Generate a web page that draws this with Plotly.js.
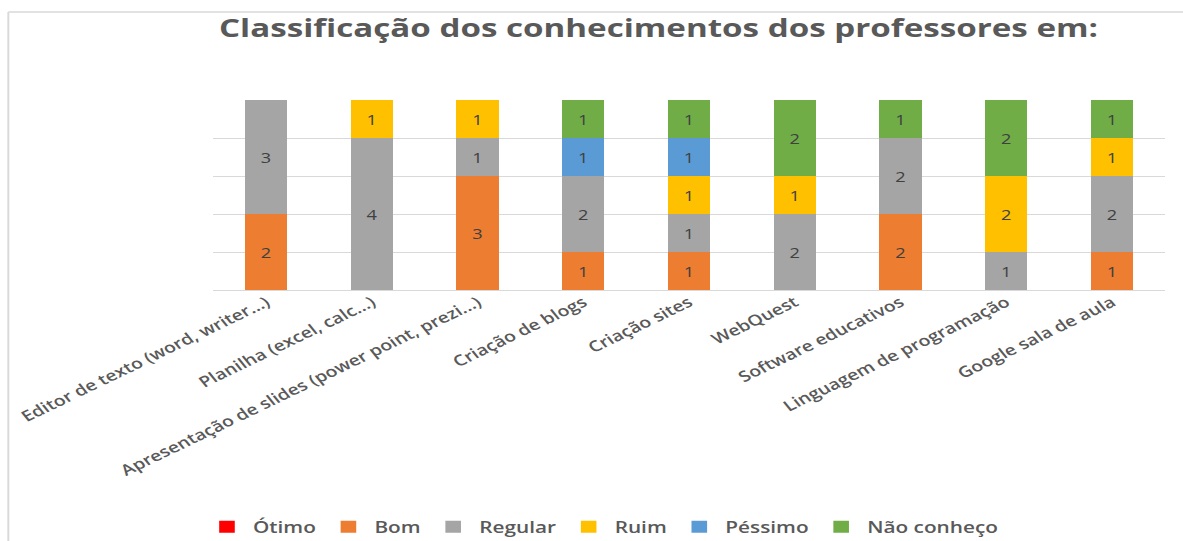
<!DOCTYPE html>
<html>
<head>
<meta charset="utf-8">
<script src="https://cdn.plot.ly/plotly-3.0.1.min.js"></script>
<style>
html,body{margin:0;padding:0;background:#fff;width:1183px;height:541px;overflow:hidden;}
#chart{width:910px;height:541px;transform:scaleX(1.3);transform-origin:0 0;}
</style>
</head>
<body>
<div id="chart"></div>
<script>
const categories = [
  "Editor de texto (word, writer...)",
  "Planilha (excel, calc...)",
  "Apresentação de slides (power point, prezi...)",
  "Criação de blogs",
  "Criação sites",
  "WebQuest",
  "Software educativos",
  "Linguagem de programação",
  "Google sala de aula"
];
const otimo      = [0, 0, 0, 0, 0, 0, 0, 0, 0];
const bom        = [2, 0, 3, 1, 1, 0, 2, 0, 1];
const regular    = [3, 4, 1, 2, 1, 2, 2, 1, 2];
const ruim       = [0, 1, 1, 0, 1, 1, 0, 2, 1];
const pessimo    = [0, 0, 0, 1, 1, 0, 0, 0, 0];
const naoConheco = [0, 0, 0, 1, 1, 2, 1, 2, 1];

const seriesNames = ["Ótimo", "Bom", "Regular", "Ruim", "Péssimo", "Não conheço"];
const seriesValues = [otimo, bom, regular, ruim, pessimo, naoConheco];
const seriesColors = ["#ff0000", "#ed7d31", "#a5a5a5", "#ffc000", "#5b9bd5", "#70ad47"];

const traces = seriesNames.map((name, i) => ({
  type: "bar",
  name: name,
  x: categories,
  y: seriesValues[i],
  text: seriesValues[i].map(v => v ? String(v) : ""),
  textposition: "inside",
  insidetextanchor: "middle",
  textangle: 0,
  constraintext: "none",
  textfont: {family: "Open Sans, sans-serif", size: 14, color: "#404040"},
  marker: {color: seriesColors[i], line: {width: 0}},
  hoverinfo: "x+y+name"
}));

const layout = {
  width: 910,
  height: 541,
  barmode: "stack",
  bargap: 0.6,
  paper_bgcolor: "#ffffff",
  plot_bgcolor: "#ffffff",
  margin: {l: 164, r: 14, t: 100, b: 251, autoexpand: false},
  title: {
    text: "<b>Classificação dos conhecimentos dos professores em:</b>",
    font: {family: "Open Sans, sans-serif", size: 25.5, color: "#595959"},
    xref: "container", yref: "container",
    x: 0.5566, xanchor: "center",
    y: 0.948, yanchor: "middle"
  },
  xaxis: {
    type: "category",
    tickangle: -32,
    tickfont: {family: "Open Sans, sans-serif", size: 15, color: "#595959", weight: 600},
    showgrid: false,
    showline: false,
    ticks: "",
    automargin: false,
    fixedrange: true
  },
  yaxis: {
    range: [0, 5],
    dtick: 1,
    showticklabels: false,
    gridcolor: "#d9d9d9",
    gridwidth: 1,
    zeroline: true,
    zerolinecolor: "#d9d9d9",
    zerolinewidth: 1,
    ticks: "",
    automargin: false,
    fixedrange: true
  },
  showlegend: true,
  legend: {
    orientation: "h",
    xref: "container", yref: "container",
    x: 0.51, xanchor: "center",
    y: 0.026, yanchor: "middle",
    traceorder: "normal",
    itemwidth: 30,
    font: {family: "Open Sans, sans-serif", size: 16, color: "#595959", weight: 600}
  },
  shapes: [
    {type: "line", xref: "paper", yref: "paper", x0: -0.2153, x1: 1.03, y0: 1.463, y1: 1.463, line: {color: "#d9d9d9", width: 1.5}},
    {type: "line", xref: "paper", yref: "paper", x0: -0.2153, x1: -0.2153, y0: 1.463, y1: -1.35, line: {color: "#d9d9d9", width: 1.5}}
  ]
};

Plotly.newPlot("chart", traces, layout, {displayModeBar: false, staticPlot: true});
</script>
</body>
</html>
